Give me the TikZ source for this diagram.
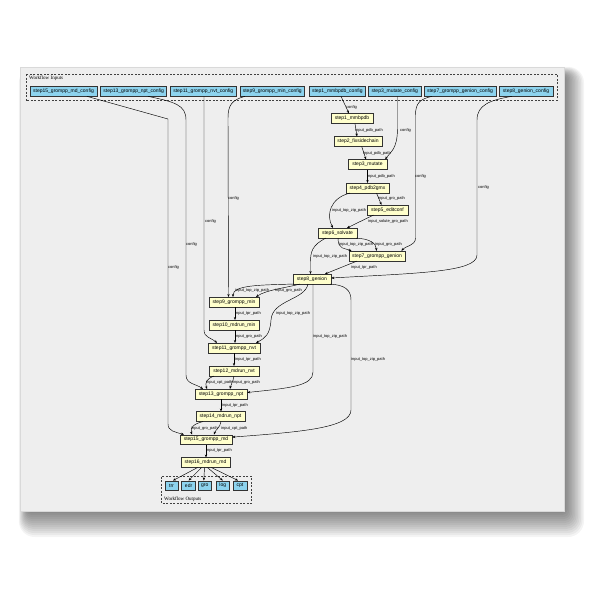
\documentclass[tikz,border=0pt]{standalone}
\usepackage{fontspec}
\setmainfont{Liberation Sans}
\newfontfamily\clusterfont{Liberation Serif}
\usetikzlibrary{arrows.meta}
\definecolor{inblue}{HTML}{8DD3EE}
\definecolor{stepyellow}{HTML}{FFFFCC}
\definecolor{panelgray}{HTML}{EEEEEE}
\begin{document}
\begin{tikzpicture}[x=1pt,y=-1pt,
  io/.style={draw=black!80, fill=inblue, line width=0.5pt, inner sep=0pt, minimum height=9.4pt, font=\fontsize{5}{5}\selectfont},
  stepbox/.style={draw=black!80, fill=stepyellow, line width=0.5pt, inner sep=0pt, minimum height=9.6pt, font=\fontsize{5}{5}\selectfont},
  edge/.style={draw=black, line width=0.45pt, -{Stealth[length=3pt,width=2.4pt]}},
  elabel/.style={anchor=west, inner sep=0pt, font=\fontsize{4}{4}\selectfont},
  cluster/.style={draw=black!75, dash pattern=on 2pt off 1.5pt, line width=0.5pt},
  clabel/.style={anchor=west, inner sep=0pt, font=\clusterfont\fontsize{5}{5}\selectfont},
  shadowlayer/.style={fill=black, opacity=0.042}]
\useasboundingbox (0,0) rectangle (600,600);
\fill[white] (0,0) rectangle (600,600);
% soft drop shadow of the panel
\foreach \i in {1,...,16}{
  \fill[shadowlayer, rounded corners=\i pt] ({30-0.7*\i},{78-0.7*\i}) rectangle ({560+1.5*\i},{505+2*\i});
}
% panel
\path[fill=panelgray, draw=black!15, line width=0.4pt] (20,67) rectangle (564,510.7);
% clusters
\draw[cluster] (26,74) rectangle (557,100.7);
\node[clabel] (inlbl) at (29,78) {Workflow Inputs};
\draw[cluster] (161.5,476.7) rectangle (251.7,503.3);
\node[clabel] (outlbl) at (164,499.5) {Workflow Outputs};
% input nodes
\node[io, minimum width=67pt]   (in15) at (63.5,91.4)  {step15\_grompp\_md\_config};
\node[io, minimum width=66pt]   (in13) at (133.7,91.4) {step13\_grompp\_npt\_config};
\node[io, minimum width=66.7pt] (in11) at (203.3,91.4) {step11\_grompp\_nvt\_config};
\node[io, minimum width=63.3pt] (in8)  at (272.3,91.4) {step9\_grompp\_min\_config};
\node[io, minimum width=56.7pt] (in1)  at (337.3,91.4) {step1\_mmbpdb\_config};
\node[io, minimum width=53.7pt] (in3)  at (394.8,91.4) {step3\_mutate\_config};
\node[io, minimum width=72pt]   (in7)  at (460,91.4)   {step7\_grompp\_genion\_config};
\node[io, minimum width=54pt]   (in6)  at (526,91.4)   {step8\_genion\_config};
% step nodes
\node[stepbox, minimum width=42pt]   (s1)  at (352,118.5)   {step1\_mmbpdb};
\node[stepbox, minimum width=48pt]   (s2)  at (358,141.5)   {step2\_fixsidechain};
\node[stepbox, minimum width=39pt]   (s3)  at (367.5,164.5) {step3\_mutate};
\node[stepbox, minimum width=43pt]   (s4)  at (367.5,188)   {step4\_pdb2gmx};
\node[stepbox, minimum width=41pt]   (s5)  at (387.5,210)   {step5\_editconf};
\node[stepbox, minimum width=39pt]   (s6)  at (337.5,233)   {step6\_solvate};
\node[stepbox, minimum width=56.5pt] (s7)  at (377,256)     {step7\_grompp\_genion};
\node[stepbox, minimum width=38pt]   (s8)  at (312,279)     {step8\_genion};
\node[stepbox, minimum width=50pt]   (s9)  at (234,302)     {step9\_grompp\_min};
\node[stepbox, minimum width=50pt]   (s10) at (234,325)     {step10\_mdrun\_min};
\node[stepbox, minimum width=52pt]   (s11) at (234,348)     {step11\_grompp\_nvt};
\node[stepbox, minimum width=50pt]   (s12) at (234,371)     {step12\_mdrun\_nvt};
\node[stepbox, minimum width=52pt]   (s13) at (221,394)     {step13\_grompp\_npt};
\node[stepbox, minimum width=49pt]   (s14) at (220.5,416.5) {step14\_mdrun\_npt};
\node[stepbox, minimum width=52pt]   (s15) at (206,439.6)   {step15\_grompp\_md};
\node[stepbox, minimum width=49pt]   (s16) at (205.5,462.5) {step16\_mdrun\_md};
% output nodes
\node[io, minimum width=13pt]   (trr) at (171.5,485.5) {trr};
\node[io, minimum width=14pt]   (edr) at (188.6,485.5) {edr};
\node[io, minimum width=12.5pt] (gro) at (204.8,485.5) {gro};
\node[io, minimum width=12.5pt] (log) at (222.8,485.5) {log};
\node[io, minimum width=14pt]   (cpt) at (240,485.5)   {cpt};
% edges
\draw[edge] ([xshift=3.7pt]in1.south) -- ([xshift=-3pt]s1.north);
\draw[edge] ([xshift=3pt]s1.south) -- ([xshift=-1pt]s2.north);
\draw[edge] ([xshift=3.7pt]s2.south) -- ([xshift=-1.5pt]s3.north);
\draw[edge] ([xshift=2.7pt]in3.south) -- (397.5,128) .. controls (397.5,150) and (390,152) .. ([xshift=-2pt]s3.north east);
\draw[edge] (s3.south) -- (s4.north);
\draw[edge] ([xshift=9pt]s4.south) -- ([xshift=-6pt]s5.north);
\draw[edge] ([xshift=-17.5pt]s4.south) .. controls (330,198) and (326,215) .. ([xshift=-4.5pt]s6.north);
\draw[edge] ([xshift=-14pt]s5.south) -- ([xshift=9.5pt]s6.north);
\draw[edge] ([xshift=0.5pt]s6.south) .. controls (338,250) and (345,248) .. ([xshift=3pt]s7.north west);
\draw[edge] ([xshift=-1pt]s6.south east) .. controls (370,239) and (376,243) .. ([xshift=-0.5pt]s7.north);
\draw[edge] ([xshift=-28pt]in7.south) .. controls (420,99) and (415.5,103) .. (415.5,115) -- (415.5,238) .. controls (415.5,246) and (405,246) .. ([xshift=-4pt]s7.north east);
\draw[edge] ([xshift=-11.5pt]s6.south) .. controls (312,245) and (310.5,252) .. (310.5,262) -- ([xshift=-1.5pt]s8.north);
\draw[edge] ([xshift=-20pt]s7.south) -- ([xshift=13pt]s8.north);
\draw[edge] ([xshift=-14pt]in6.south) .. controls (490,100) and (477,105) .. (477,120) -- (477,255) .. controls (477,272) and (420,273) .. ([yshift=1pt]s8.east);
\draw[edge] ([xshift=-27.5pt]in8.south) .. controls (232,100) and (228,105) .. (228,118) -- ([xshift=-5.5pt]s9.north);
\draw[edge] ([xshift=1pt]s8.south west) .. controls (260,285) and (233,285) .. ([xshift=-1pt]s9.north);
\draw[edge] ([xshift=-12pt]s8.south) .. controls (285,288) and (266,290) .. ([xshift=22pt]s9.north);
\draw[edge] ([xshift=1pt]s9.south) -- ([xshift=1pt]s10.north);
\draw[edge] ([xshift=1pt]s10.south) -- ([xshift=1pt]s11.north);
\draw[edge] ([xshift=-4pt]s8.south) .. controls (305,300) and (272,300) .. (271,320) .. controls (270,335) and (265,338) .. ([xshift=22pt]s11.north);
\draw[edge] ([xshift=0.7pt]in11.south) -- (204,330) .. controls (204,338) and (212,338) .. ([xshift=-17pt]s11.north);
\draw[edge] (s11.south) -- (s12.north);
\draw[edge] ([xshift=-20pt]s12.south) .. controls (206,379) and (205,383) .. ([xshift=-14pt]s13.north);
\draw[edge] (s12.south) .. controls (233,382) and (231,384) .. ([xshift=9pt]s13.north);
\draw[edge] ([xshift=14.3pt]in13.south) .. controls (175,102) and (186,105) .. (186,120) -- (186,375) .. controls (186,384) and (196,384) .. ([xshift=-18pt]s13.north);
\draw[edge] ([xshift=1pt]s8.south) -- (313,372) .. controls (313,386) and (290,388) .. ([yshift=1.5pt]s13.east);
\draw[edge] (s13.south) -- ([xshift=0.5pt]s14.north);
\draw[edge] ([xshift=-17.5pt]s14.south) .. controls (193,424) and (190,428) .. ([xshift=-14pt]s15.north);
\draw[edge] ([xshift=0.5pt]s14.south) .. controls (220,428) and (216,429) .. ([xshift=8pt]s15.north);
\draw[edge] ([xshift=23.5pt]in15.south) -- (168,119) -- (168,424) .. controls (168,431) and (175,432) .. ([xshift=-22pt]s15.north);
\draw[edge] ([xshift=-1pt]s8.south east) .. controls (345,285) and (351,290) .. (351,300) -- (351,410) .. controls (351,428) and (300,432) .. ([yshift=2.5pt]s15.east);
\draw[edge] (s15.south) -- ([xshift=0.5pt]s16.north);
\draw[edge] ([xshift=-8pt]s16.south) -- ([xshift=1.5pt]trr.north);
\draw[edge] ([xshift=-4pt]s16.south) -- (edr.north);
\draw[edge] ([xshift=-1pt]s16.south) -- ([xshift=-1pt]gro.north);
\draw[edge] ([xshift=2pt]s16.south) -- (log.north);
\draw[edge] ([xshift=6pt]s16.south) -- ([xshift=-2pt]cpt.north);
% edge labels
\node[elabel] (l1)  at (346,107)   {config};
\node[elabel] (l2)  at (355,130)   {input\_pdb\_path};
\node[elabel] (l3)  at (363,153)   {input\_pdb\_path};
\node[elabel] (l4)  at (400,130)   {config};
\node[elabel] (l5)  at (367,176)   {input\_pdb\_path};
\node[elabel] (l6)  at (378,198)   {input\_gro\_path};
\node[elabel] (l7)  at (332,210)   {input\_top\_zip\_path};
\node[elabel] (l8)  at (368,221)   {input\_solute\_gro\_path};
\node[elabel] (l9)  at (339,244.6) {input\_top\_zip\_path};
\node[elabel] (l10) at (375,244.6) {input\_gro\_path};
\node[elabel] (l11) at (415,176)   {config};
\node[elabel] (l12) at (313,256)   {input\_top\_zip\_path};
\node[elabel] (l13) at (351,267.5) {input\_tpr\_path};
\node[elabel] (l14) at (478,187)   {config};
\node[elabel] (l15) at (228,198)   {config};
\node[elabel] (l16) at (235,290)   {input\_top\_zip\_path};
\node[elabel] (l17) at (275,290)   {input\_gro\_path};
\node[elabel] (l18) at (235,313)   {input\_tpr\_path};
\node[elabel] (l19) at (235,336)   {input\_gro\_path};
\node[elabel] (l20) at (276,313)   {input\_top\_zip\_path};
\node[elabel] (l21) at (205,221)   {config};
\node[elabel] (l22) at (235,359)   {input\_tpr\_path};
\node[elabel] (l23) at (206,382)   {input\_cpt\_path};
\node[elabel] (l24) at (233,382)   {input\_gro\_path};
\node[elabel] (l25) at (186,244.6) {config};
\node[elabel] (l26) at (313,336)   {input\_top\_zip\_path};
\node[elabel] (l27) at (222,405)   {input\_tpr\_path};
\node[elabel] (l28) at (191,428)   {input\_gro\_path};
\node[elabel] (l29) at (221,428)   {input\_cpt\_path};
\node[elabel] (l30) at (168,267.5) {config};
\node[elabel] (l31) at (351,359)   {input\_top\_zip\_path};
\node[elabel] (l32) at (206,450.7) {input\_tpr\_path};
\end{tikzpicture}
\end{document}
